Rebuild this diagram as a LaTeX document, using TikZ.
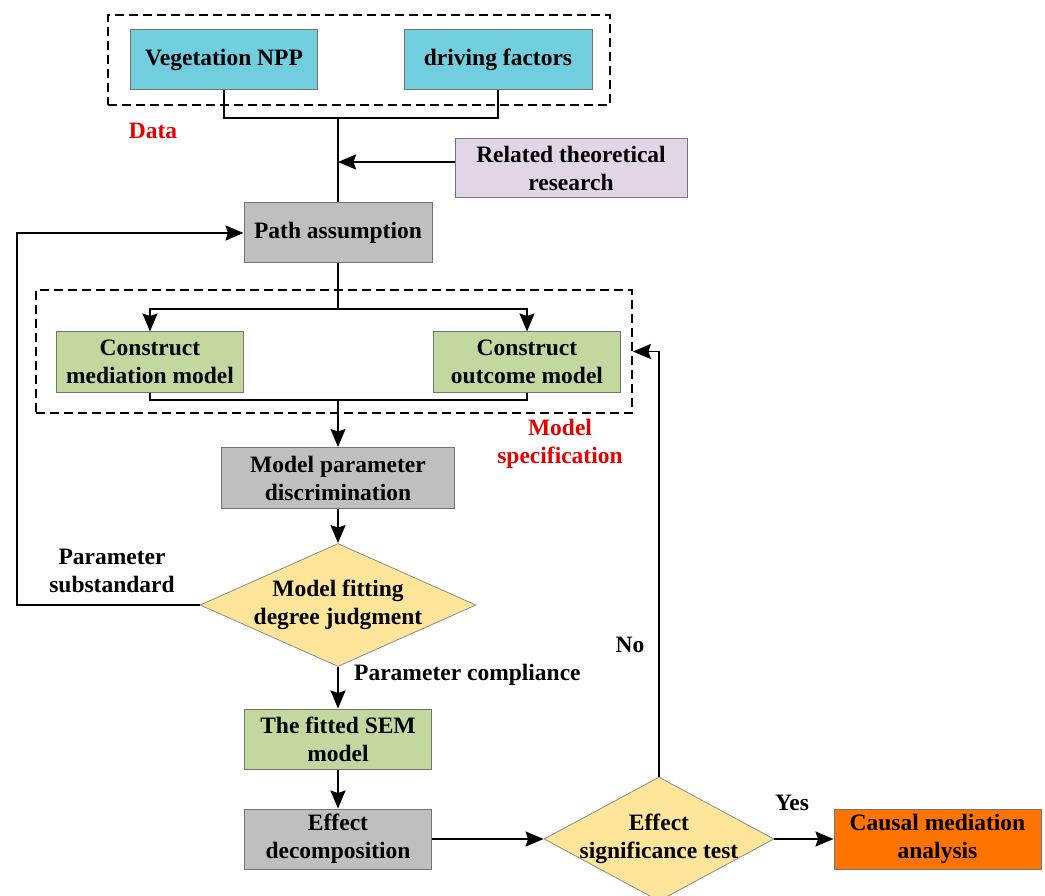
\documentclass[tikz,border=0pt]{standalone}
\usepackage{fontspec}
\setmainfont{Liberation Serif}
\usetikzlibrary{shapes.geometric,arrows.meta,calc}
\definecolor{cyanbox}{RGB}{112,206,222}
\definecolor{lavbox}{RGB}{225,213,231}
\definecolor{graybox}{RGB}{191,191,191}
\definecolor{greenbox}{RGB}{195,216,158}
\definecolor{yelbox}{RGB}{255,229,153}
\definecolor{orbox}{RGB}{255,115,0}
\definecolor{redlab}{RGB}{230,0,0}
\tikzset{
  x=1pt,y=-1pt,
  every node/.style={font=\fontsize{23.5}{28}\selectfont\bfseries},
  box/.style={draw=black!55, line width=1pt, inner sep=0, align=center, minimum width=187pt, minimum height=60pt},
  dia/.style={diamond, draw=black!45, line width=0.8pt, fill=yelbox, inner sep=0},
  grp/.style={draw=black, dash pattern=on 9pt off 5pt, line width=1.8pt, inner sep=0},
  ln/.style={line width=1.8pt},
  arr/.style={ln, -{Stealth[length=18pt,width=15pt,inset=2.5pt]}},
  lab/.style={align=center, inner sep=0},
  redl/.style={lab, text=redlab}
}
\begin{document}
\begin{tikzpicture}
\useasboundingbox (0,0) rectangle (1045,896);
% groups
\node[grp, minimum width=502pt, minimum height=90pt] (dgrp) at (359,60) {};
\node[grp, minimum width=596pt, minimum height=123pt] (mgrp) at (334,351.5) {};
% boxes
\node[box, fill=cyanbox] (veg) at (224,60) {Vegetation NPP};
\node[box, fill=cyanbox, minimum width=188pt] (drv) at (498,60) {driving factors};
\node[redl] (datal) at (153,131) {Data};
\node[box, fill=lavbox, minimum width=232pt, minimum height=59pt] (rel) at (571,168.5) {Related theoretical\\research};
\node[box, fill=graybox, minimum width=188pt] (path) at (338,233) {Path assumption};
\node[box, fill=greenbox] (med) at (150,362) {Construct\\mediation model};
\node[box, fill=greenbox] (out) at (527,362) {Construct\\outcome model};
\node[redl] (specl) at (560,444) {Model\\specification};
\node[box, fill=graybox, minimum width=233pt, minimum height=61pt] (param) at (338,478) {Model parameter\\discrimination};
\node[dia, minimum width=276pt, minimum height=123pt] (d1) at (338,605) {};
\node[lab] at (d1) {Model fitting\\degree judgment};
\node[box, fill=greenbox] (fit) at (338,739) {The fitted SEM\\model};
\node[box, fill=graybox] (dec) at (338,839) {Effect\\decomposition};
\node[dia, minimum width=230pt, minimum height=124pt] (d2) at (659,839) {};
\node[lab] at (d2) {Effect\\significance test};
\node[box, fill=orbox, minimum width=207pt] (cau) at (937.5,839) {Causal mediation\\analysis};
% labels
\node[lab] (subl) at (112,571) {Parameter\\substandard};
\node[lab, anchor=west] (compl) at (354,675) {Parameter compliance};
\node[lab] (nol) at (630,645) {No};
\node[lab] (yesl) at (792,803) {Yes};
% connectors
\coordinate (j1) at (338,118);
\draw[ln] (veg.south) |- (j1) -| (drv.south);
\draw[ln] (j1) -- (path.north);
\coordinate (rs) at ($(rel.west)+(0,-6.5)$);
\draw[arr] (rs) -- (rs -| j1);
\coordinate (j2) at (338,309);
\draw[ln] (path.south) -- (j2);
\draw[arr] (j2) -| (med.north);
\draw[arr] (j2) -| (out.north);
\coordinate (j3) at (338,400);
\draw[ln] (med.south) |- (j3) -| (out.south);
\draw[arr] (j3) -- (param.north);
\draw[arr] (param.south) -- (d1.north);
\coordinate (lf) at (17,400);
\draw[arr] (d1.west) -| (lf) |- (path.west);
\draw[arr] (d1.south) -- (fit.north);
\draw[arr] (fit.south) -- (dec.north);
\draw[arr] (dec.east) -- (d2.west);
\draw[arr] (d2.east) -- (cau.west);
\draw[arr] (d2.north) |- (mgrp.east);
\end{tikzpicture}
\end{document}
